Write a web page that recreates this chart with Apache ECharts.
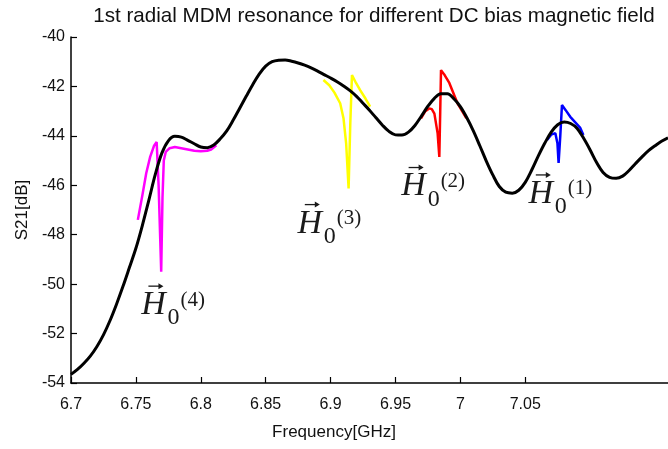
<!DOCTYPE html>
<html>
<head>
<meta charset="utf-8">
<script src="https://cdn.jsdelivr.net/npm/echarts@6/dist/echarts.min.js"></script>
<style>
  html, body { margin: 0; padding: 0; background: #fff; }
  #chart { width: 668px; height: 449px; }
</style>
</head>
<body>
<div id="chart"></div>
<script>
// Reference S21 response (no bias field), frequency in GHz, S21 in dB
const baseFreq = [
  6.700, 6.705, 6.710, 6.715, 6.720, 6.725, 6.730, 6.735, 6.740, 6.745,
  6.750, 6.755, 6.760, 6.765, 6.770, 6.775, 6.780, 6.785, 6.790, 6.795,
  6.800, 6.805, 6.810, 6.815, 6.820, 6.825, 6.830, 6.835, 6.840, 6.845,
  6.850, 6.855, 6.860, 6.865, 6.870, 6.875, 6.880, 6.885, 6.890, 6.895,
  6.900, 6.905, 6.910, 6.915, 6.920, 6.925, 6.930, 6.935, 6.940, 6.945,
  6.950, 6.955, 6.960, 6.965, 6.970, 6.975, 6.980, 6.985, 6.990, 6.995,
  7.000, 7.005, 7.010, 7.015, 7.020, 7.025, 7.030, 7.035, 7.040, 7.045,
  7.050, 7.055, 7.060, 7.065, 7.070, 7.075, 7.080, 7.085, 7.090, 7.095,
  7.100, 7.105, 7.110, 7.115, 7.120, 7.125, 7.130, 7.135, 7.140, 7.145,
  7.150, 7.155, 7.160
];
const baseS21 = [
  -53.65, -53.45, -53.20, -52.90, -52.52, -52.05, -51.48, -50.82, -50.10, -49.33,
  -48.55, -47.62, -46.60, -45.55, -44.70, -44.20, -44.02, -44.05, -44.18, -44.32,
  -44.45, -44.48, -44.37, -44.12, -43.80, -43.36, -42.88, -42.40, -41.93, -41.50,
  -41.18, -41.00, -40.94, -40.93, -40.98, -41.05, -41.14, -41.25, -41.38, -41.52,
  -41.66, -41.81, -41.98, -42.17, -42.40, -42.68, -42.96, -43.27, -43.57, -43.82,
  -43.96, -43.97, -43.85, -43.58, -43.20, -42.80, -42.48, -42.30, -42.30, -42.50,
  -42.82, -43.27, -43.80, -44.40, -45.02, -45.58, -46.05, -46.28, -46.32, -46.20,
  -45.88, -45.38, -44.82, -44.30, -43.85, -43.55, -43.44, -43.50, -43.70, -44.10,
  -44.57, -45.08, -45.48, -45.68, -45.72, -45.63, -45.40, -45.12, -44.85, -44.60,
  -44.40, -44.22, -44.08
];

// Resonance traces for each DC bias field H0(1)..H0(4)
const h1Freq = [7.0668, 7.0700, 7.0732, 7.0748, 7.0757, 7.0770, 7.0783, 7.0810, 7.0847, 7.0924, 7.0948];
const h1S21  = [-44.17, -43.95, -43.89, -44.30, -45.10, -44.00, -42.75, -42.95, -43.23, -43.68, -43.97];

const h2Freq = [6.9697, 6.9730, 6.9761, 6.9780, 6.9800, 6.9825, 6.9838, 6.9845, 6.9851, 6.9880, 6.9915, 6.9977, 7.0046];
const h2S21  = [-43.29, -43.00, -42.89, -42.92, -43.10, -43.90, -44.85, -43.00, -41.34, -41.55, -41.86, -42.67, -43.28];

const h3Freq = [6.8945, 6.8990, 6.9030, 6.9074, 6.9100, 6.9120, 6.9139, 6.9152, 6.9165, 6.9195, 6.9228, 6.9270, 6.9305];
const h3S21  = [-41.74, -41.95, -42.25, -42.68, -43.30, -44.30, -46.13, -43.50, -41.54, -41.85, -42.15, -42.50, -42.82];

const h4Freq = [6.7515, 6.7550, 6.7580, 6.7610, 6.7640, 6.7660, 6.7675, 6.7695, 6.7705, 6.7715, 6.7730, 6.7760,
                6.7800, 6.7850, 6.7900, 6.7950, 6.8000, 6.8050, 6.8080, 6.8120];
const h4S21  = [-47.40, -46.40, -45.50, -44.85, -44.40, -44.25, -46.00, -49.50, -46.50, -45.00, -44.65, -44.50,
                -44.45, -44.50, -44.55, -44.60, -44.62, -44.60, -44.55, -44.38];

// Axis ticks
const xTicks = [6.7, 6.75, 6.8, 6.85, 6.9, 6.95, 7, 7.05];
const yTicks = [-54, -52, -50, -48, -46, -44, -42, -40];

// Field labels: index, colour of trace, anchor (centre of the H glyph) in data units
const fieldIds    = ['1', '2', '3', '4'];
const fieldColors = ['#0000ff', '#ff0000', '#ffff00', '#ff00ff'];
const labelFreq   = [7.0620, 6.9640, 6.8840, 6.7635];
const labelS21    = [-46.35, -46.05, -47.55, -50.85];

const zip = (a, b) => a.map((v, i) => [v, b[i]]);

const chart = echarts.init(document.getElementById('chart'), null, { renderer: 'canvas' });

const traceSeries = [
  [h4Freq, h4S21, fieldColors[3]],
  [h3Freq, h3S21, fieldColors[2]],
  [h2Freq, h2S21, fieldColors[1]],
  [h1Freq, h1S21, fieldColors[0]]
].map(([f, s, c]) => ({
  type: 'line',
  data: zip(f, s),
  showSymbol: false,
  smooth: false,
  lineStyle: { color: c, width: 2.5 },
  z: 2
}));

chart.setOption({
  animation: false,
  backgroundColor: '#ffffff',
  grid: { left: 71, right: 0, top: 37, bottom: 66, containLabel: false },
  xAxis: {
    type: 'value',
    min: 6.7,
    max: 7.16,
    interval: 0.05,
    axisLine: { show: true, onZero: false, lineStyle: { color: '#000', width: 1.5 } },
    axisTick: { show: true, inside: true, length: 6, customValues: xTicks, lineStyle: { color: '#000', width: 1.2 } },
    axisLabel: { customValues: xTicks, margin: 14, color: '#111', fontSize: 16, fontFamily: 'Liberation Sans, Arial, sans-serif' },
    splitLine: { show: false }
  },
  yAxis: {
    type: 'value',
    min: -54,
    max: -40,
    interval: 2,
    name: 'S21[dB]',
    nameLocation: 'middle',
    nameGap: 38,
    nameTextStyle: { color: '#111', fontSize: 17, fontFamily: 'Liberation Sans, Arial, sans-serif' },
    axisLine: { show: true, onZero: false, lineStyle: { color: '#000', width: 1.5 } },
    axisTick: { show: true, inside: true, length: 6, customValues: yTicks, lineStyle: { color: '#000', width: 1.2 } },
    axisLabel: { customValues: yTicks, margin: 6, color: '#111', fontSize: 16, fontFamily: 'Liberation Sans, Arial, sans-serif' },
    splitLine: { show: false }
  },
  series: traceSeries.concat([{
    type: 'line',
    data: zip(baseFreq, baseS21),
    showSymbol: false,
    smooth: 0.35,
    lineStyle: { color: '#000', width: 3 },
    z: 3
  }])
});

// Title, x-axis caption and the H0(n) field annotations
const sans = 'Liberation Sans, Arial, sans-serif';
const serif = 'Liberation Serif, Times New Roman, serif';
const graphics = [
  { type: 'text', x: 374, y: 16, style: { text: '1st radial MDM resonance for different DC bias magnetic field',
      align: 'center', verticalAlign: 'middle', fill: '#111', font: '20.6px ' + sans } },
  { type: 'text', x: 334, y: 432, style: { text: 'Frequency[GHz]',
      align: 'center', verticalAlign: 'middle', fill: '#111', font: '17px ' + sans } }
];

fieldIds.forEach((id, i) => {
  const [px, py] = chart.convertToPixel({ gridIndex: 0 }, [labelFreq[i], labelS21[i]]);
  graphics.push(
    { type: 'text', x: px, y: py, z: 10, style: { text: 'H', align: 'center', verticalAlign: 'middle',
        fill: '#1a1a1a', font: 'italic 34px ' + serif } },
    { type: 'line', z: 10, shape: { x1: px - 5, y1: py - 19, x2: px + 8, y2: py - 19 },
        style: { stroke: '#1a1a1a', lineWidth: 1.3 } },
    { type: 'polygon', z: 10, shape: { points: [[px + 10, py - 19], [px + 5, py - 22], [px + 5, py - 16]] },
        style: { fill: '#1a1a1a' } },
    { type: 'text', x: px + 14, y: py + 13, z: 10, style: { text: '0', align: 'left', verticalAlign: 'middle',
        fill: '#1a1a1a', font: '24px ' + serif } },
    { type: 'text', x: px + 27, y: py - 5, z: 10, style: { text: '(' + id + ')', align: 'left', verticalAlign: 'middle',
        fill: '#1a1a1a', font: '21px ' + serif } }
  );
});

chart.setOption({ graphic: graphics });
</script>
</body>
</html>
